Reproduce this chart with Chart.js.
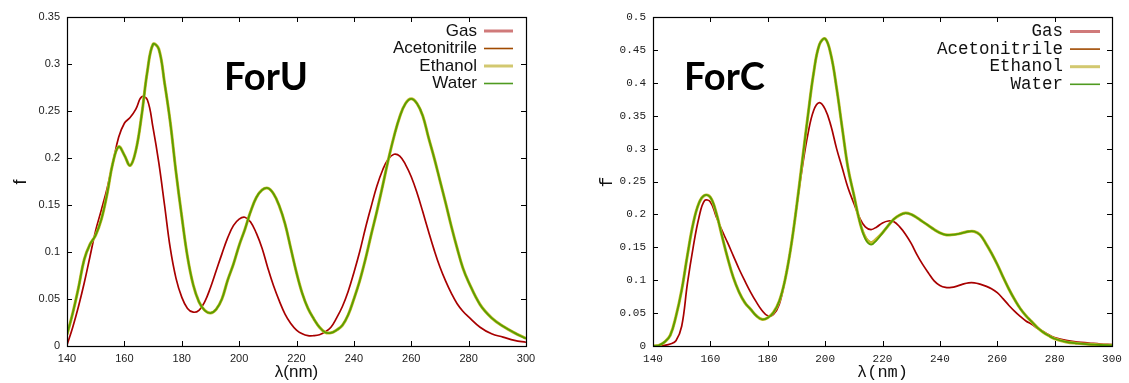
<!DOCTYPE html>
<html>
<head>
<meta charset="utf-8">
<script src="https://cdn.jsdelivr.net/npm/chart.js@4.4.1/dist/chart.umd.min.js"></script>
<style>
html,body{margin:0;padding:0;background:#fff;width:1129px;height:383px;overflow:hidden;}
canvas{position:absolute;top:0;}
#cU{left:0;}
#cC{left:560px;}
</style>
</head>
<body>
<canvas id="cU" width="560" height="383"></canvas>
<canvas id="cC" width="569" height="383"></canvas>
<script>
// ---------- data ----------
const seriesNames = ['Gas','Acetonitrile','Ethanol','Water'];
const lineColors = ['#a80000','#a04a00','#c8bc30','#5a9e00'];
const legendColors = ['#d07a7a','#a04a00','#d2c870','#4f9a20'];

const lambda = [140,142,144,146,148,150,152,154,156,158,160,162,164,166,168,170,172,174,176,178,180,182,184,186,188,190,192,194,196,198,200,202,204,206,208,210,212,214,216,218,220,222,224,226,228,230,232,234,236,238,240,242,244,246,248,250,252,254,256,258,260,262,264,266,268,270,272,274,276,278,280,284,288,292,296,300];

// ForU
const forU_gas = [0.001,0.02,0.042,0.067,0.095,0.123,0.145,0.168,0.195,0.222,0.237,0.243,0.252,0.265,0.262,0.232,0.195,0.15,0.104,0.072,0.052,0.040,0.036,0.038,0.047,0.062,0.08,0.098,0.115,0.128,0.135,0.137,0.132,0.12,0.104,0.083,0.064,0.048,0.034,0.024,0.017,0.013,0.011,0.011,0.012,0.015,0.02,0.03,0.042,0.058,0.078,0.1,0.125,0.148,0.17,0.187,0.199,0.204,0.202,0.193,0.18,0.163,0.143,0.122,0.102,0.084,0.069,0.056,0.045,0.037,0.031,0.02,0.013,0.0095,0.006,0.004];
const forU_acetonitrile = [0.012,0.035,0.062,0.092,0.108,0.118,0.135,0.162,0.195,0.212,0.203,0.192,0.208,0.245,0.292,0.321,0.316,0.28,0.238,0.185,0.138,0.095,0.065,0.047,0.038,0.035,0.039,0.05,0.07,0.087,0.107,0.124,0.143,0.158,0.166,0.168,0.162,0.149,0.13,0.104,0.078,0.056,0.04,0.029,0.02,0.0145,0.014,0.017,0.022,0.033,0.05,0.069,0.092,0.118,0.143,0.17,0.198,0.223,0.244,0.258,0.263,0.258,0.245,0.222,0.2,0.176,0.152,0.127,0.104,0.083,0.068,0.044,0.03,0.021,0.014,0.008];
const forU_ethanol = [0.012,0.035,0.062,0.092,0.108,0.118,0.135,0.162,0.195,0.212,0.203,0.192,0.208,0.245,0.292,0.321,0.316,0.28,0.238,0.185,0.138,0.095,0.065,0.047,0.038,0.035,0.039,0.05,0.07,0.087,0.107,0.124,0.143,0.158,0.166,0.168,0.162,0.149,0.13,0.104,0.078,0.056,0.04,0.029,0.02,0.0145,0.014,0.017,0.022,0.033,0.05,0.069,0.092,0.118,0.143,0.17,0.198,0.223,0.244,0.258,0.263,0.258,0.245,0.222,0.2,0.176,0.152,0.127,0.104,0.083,0.068,0.044,0.03,0.021,0.014,0.008];
const forU_water = [0.012,0.035,0.062,0.092,0.108,0.118,0.135,0.162,0.195,0.212,0.203,0.192,0.208,0.245,0.292,0.321,0.316,0.28,0.238,0.185,0.138,0.095,0.065,0.047,0.038,0.035,0.039,0.05,0.07,0.087,0.107,0.124,0.143,0.158,0.166,0.168,0.162,0.149,0.13,0.104,0.078,0.056,0.04,0.029,0.02,0.0145,0.014,0.017,0.022,0.033,0.05,0.069,0.092,0.118,0.143,0.17,0.198,0.223,0.244,0.258,0.263,0.258,0.245,0.222,0.2,0.176,0.152,0.127,0.104,0.083,0.068,0.044,0.03,0.021,0.014,0.008];

// ForC
const forC_gas = [0,0,0.001,0.003,0.008,0.03,0.095,0.15,0.195,0.221,0.219,0.197,0.176,0.157,0.137,0.117,0.099,0.082,0.067,0.054,0.046,0.048,0.063,0.1,0.148,0.21,0.27,0.322,0.358,0.37,0.36,0.335,0.3,0.27,0.24,0.217,0.195,0.181,0.177,0.181,0.187,0.19,0.189,0.181,0.17,0.156,0.139,0.124,0.111,0.099,0.092,0.089,0.089,0.091,0.094,0.096,0.096,0.094,0.091,0.087,0.081,0.072,0.062,0.053,0.045,0.038,0.033,0.027,0.022,0.017,0.013,0.0085,0.006,0.0045,0.003,0.002];
const forC_acetonitrile = [0,0.001,0.006,0.016,0.045,0.085,0.138,0.186,0.217,0.229,0.226,0.203,0.168,0.134,0.104,0.082,0.066,0.056,0.046,0.0405,0.043,0.051,0.068,0.1,0.148,0.21,0.28,0.35,0.415,0.458,0.467,0.443,0.392,0.33,0.27,0.23,0.19,0.166,0.158,0.164,0.172,0.183,0.193,0.199,0.202,0.2,0.195,0.189,0.183,0.177,0.172,0.169,0.169,0.17,0.172,0.174,0.174,0.169,0.156,0.141,0.124,0.105,0.087,0.071,0.057,0.046,0.037,0.028,0.021,0.0155,0.011,0.0062,0.004,0.0025,0.0015,0.001];
const forC_ethanol = [0,0.001,0.006,0.016,0.045,0.085,0.138,0.186,0.217,0.229,0.226,0.203,0.168,0.134,0.104,0.082,0.066,0.056,0.046,0.0405,0.043,0.051,0.068,0.1,0.148,0.21,0.28,0.35,0.415,0.458,0.467,0.443,0.392,0.33,0.27,0.23,0.19,0.165,0.157,0.163,0.172,0.183,0.193,0.199,0.202,0.2,0.195,0.189,0.183,0.177,0.172,0.169,0.169,0.17,0.172,0.174,0.174,0.169,0.156,0.141,0.124,0.105,0.087,0.071,0.057,0.046,0.037,0.028,0.021,0.0155,0.011,0.0062,0.004,0.0025,0.0015,0.001];
const forC_water = [0,0.001,0.006,0.016,0.045,0.085,0.138,0.186,0.217,0.229,0.226,0.203,0.168,0.134,0.104,0.082,0.066,0.056,0.046,0.0405,0.043,0.051,0.068,0.1,0.148,0.21,0.28,0.35,0.415,0.458,0.467,0.443,0.392,0.33,0.27,0.23,0.19,0.163,0.154,0.161,0.172,0.183,0.193,0.199,0.202,0.2,0.195,0.189,0.183,0.177,0.172,0.169,0.169,0.17,0.172,0.174,0.174,0.169,0.156,0.141,0.124,0.105,0.087,0.071,0.057,0.046,0.037,0.028,0.021,0.0155,0.011,0.0062,0.004,0.0025,0.0015,0.001];

const xTicks = [140,160,180,200,220,240,260,280,300];
const yTicksU = [0,0.05,0.1,0.15,0.2,0.25,0.3,0.35];
const yTicksC = [0,0.05,0.1,0.15,0.2,0.25,0.3,0.35,0.4,0.45,0.5];

// ---------- helpers ----------
const lineWidths = [1.7,1.7,3.0,1.8];
const legendWidths = [3,1.6,3,1.6];
const drawOrder = [3,2,1,0];

function makeDatasets(seriesVals){
  return seriesVals.map((vals,i)=>({
    label: seriesNames[i],
    data: lambda.map((x,j)=>({x:x, y:vals[j]})),
    borderColor: lineColors[i],
    backgroundColor: lineColors[i],
    borderWidth: lineWidths[i],
    pointRadius: 0,
    fill: false,
    tension: 0.4,
    order: drawOrder[i]
  }));
}

function fmt(v){ return String(+(+v).toFixed(3)); }

function frameAndText(cfg){
  return {
    id: 'frameText',
    afterDatasetsDraw(chart){
      const ctx = chart.ctx, a = chart.chartArea;
      const xs = chart.scales.x, ys = chart.scales.y;
      ctx.save();
      ctx.strokeStyle = '#000';
      ctx.lineWidth = 1.2;
      ctx.strokeRect(Math.round(a.left)+0.5, Math.round(a.top)+0.5, Math.round(a.right-a.left), Math.round(a.bottom-a.top));
      ctx.lineWidth = 1;
      const tl = 5;
      ctx.beginPath();
      xs.ticks.forEach(t=>{
        const p = Math.round(xs.getPixelForValue(t.value))+0.5;
        ctx.moveTo(p, a.bottom); ctx.lineTo(p, a.bottom-tl);
        ctx.moveTo(p, a.top); ctx.lineTo(p, a.top+tl);
      });
      ys.ticks.forEach(t=>{
        const p = Math.round(ys.getPixelForValue(t.value))+0.5;
        ctx.moveTo(a.left, p); ctx.lineTo(a.left+tl, p);
        ctx.moveTo(a.right, p); ctx.lineTo(a.right-tl, p);
      });
      ctx.stroke();
      ctx.font = cfg.legendFont;
      ctx.textAlign = 'right';
      ctx.textBaseline = 'middle';
      seriesNames.forEach((n,i)=>{
        const y = cfg.legendY0 + i*cfg.legendDy;
        ctx.fillStyle = '#111';
        ctx.fillText(n, cfg.legendTextRight, y);
        ctx.strokeStyle = legendColors[i];
        ctx.lineWidth = legendWidths[i];
        ctx.beginPath();
        ctx.moveTo(cfg.legendLine[0], y); ctx.lineTo(cfg.legendLine[1], y);
        ctx.stroke();
      });
      ctx.fillStyle = '#000';
      ctx.font = 'bold 38px Lato, "Open Sans", sans-serif';
      ctx.textAlign = 'left';
      ctx.textBaseline = 'alphabetic';
      ctx.fillText(cfg.name, cfg.nameX, cfg.nameY);
      ctx.fillStyle = '#111';
      ctx.font = cfg.axisFont;
      ctx.textAlign = 'center';
      ctx.textBaseline = 'middle';
      ctx.fillText('λ(nm)', (a.left+a.right)/2, cfg.xTitleY);
      ctx.save();
      ctx.translate(cfg.yTitleX, (a.top+a.bottom)/2 + 0.5);
      ctx.rotate(-Math.PI/2);
      ctx.font = cfg.yTitleFont;
      ctx.fillText('f', 0, 0);
      ctx.restore();
      ctx.restore();
    }
  };
}

function makeChart(canvasId, seriesVals, yTicks, yMax, layoutPad, yWidth, tickFont, cfg){
  return new Chart(document.getElementById(canvasId), {
    type: 'line',
    data: { datasets: makeDatasets(seriesVals) },
    options: {
      responsive: false,
      animation: false,
      devicePixelRatio: 1,
      layout: { padding: layoutPad },
      plugins: { legend: {display:false}, tooltip: {enabled:false}, title:{display:false} },
      scales: {
        x: {
          type: 'linear', min: 140, max: 300,
          afterBuildTicks(s){ s.ticks = xTicks.map(v=>({value:v})); },
          afterFit(s){ s.height = 37; },
          grid: {display:false, drawTicks:false},
          border: {display:false},
          ticks: { padding: 6, color: '#222', font: tickFont, maxRotation: 0, autoSkip: false, callback: v=>fmt(v) }
        },
        y: {
          type: 'linear', min: 0, max: yMax,
          afterBuildTicks(s){ s.ticks = yTicks.map(v=>({value:v})); },
          afterFit(s){ s.width = yWidth; },
          grid: {display:false, drawTicks:false},
          border: {display:false},
          ticks: { padding: 7, color: '#222', font: tickFont, autoSkip: false, callback: v=>fmt(v) }
        }
      }
    },
    plugins: [frameAndText(cfg)]
  });
}

makeChart('cU', [forU_gas, forU_acetonitrile, forU_ethanol, forU_water], yTicksU, 0.35,
  {left:0, right:34, top:17, bottom:0}, 67,
  {family:'"Liberation Sans", Arial, sans-serif', size: 11},
  {
    legendFont: '17px "Liberation Sans", Arial, sans-serif',
    legendY0: 31, legendDy: 17.5, legendTextRight: 477, legendLine: [484, 513],
    name: 'ForU', nameX: 224, nameY: 90,
    axisFont: '17px "Liberation Sans", Arial, sans-serif',
    yTitleFont: '18px "Liberation Sans", Arial, sans-serif',
    xTitleY: 372, yTitleX: 21
  });

makeChart('cC', [forC_gas, forC_acetonitrile, forC_ethanol, forC_water], yTicksC, 0.5,
  {left:0, right:17, top:17, bottom:0}, 93,
  {family:'"Liberation Mono", "DejaVu Sans Mono", monospace', size: 11},
  {
    legendFont: '17.5px "Liberation Mono", "DejaVu Sans Mono", monospace',
    legendY0: 31.5, legendDy: 17.6, legendTextRight: 503, legendLine: [510, 540],
    name: 'ForC', nameX: 124, nameY: 90,
    axisFont: '17px "Liberation Mono", "DejaVu Sans Mono", monospace',
    yTitleFont: '18px "Liberation Mono", "DejaVu Sans Mono", monospace',
    xTitleY: 372, yTitleX: 47
  });
</script>
</body>
</html>
